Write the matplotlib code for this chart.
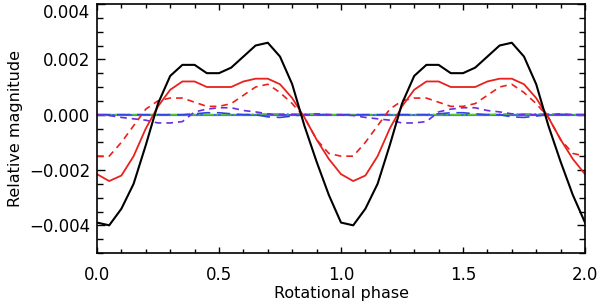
import numpy as np
import matplotlib
matplotlib.use("Agg")
import matplotlib.pyplot as plt

# one rotation, sampled every 0.05 in phase; plotted twice (phase and phase + 1)
phase = [0.00, 0.05, 0.10, 0.15, 0.20, 0.25, 0.30, 0.35, 0.40, 0.45,
         0.50, 0.55, 0.60, 0.65, 0.70, 0.75, 0.80, 0.85, 0.90, 0.95]

total = [-0.0039, -0.0040, -0.0034, -0.0025, -0.0011, 0.0004, 0.0014, 0.0018, 0.0018, 0.0015,
         0.0015, 0.0017, 0.0021, 0.0025, 0.0026, 0.0021, 0.0011, -0.0004, -0.0017, -0.0029]

red_solid = [-0.00215, -0.0024, -0.0022, -0.0015, -0.0005, 0.0003, 0.0009, 0.0012, 0.0012, 0.0010,
             0.0010, 0.0010, 0.0012, 0.0013, 0.0013, 0.0011, 0.0006, -0.0001, -0.0009, -0.0016]

red_dashed = [-0.0015, -0.0015, -0.0010, -0.0004, 0.0002, 0.0005, 0.0006, 0.0006, 0.00045, 0.0003,
              0.0003, 0.0004, 0.0007, 0.0010, 0.0011, 0.0008, 0.0004, -0.0001, -0.0009, -0.0014]

purple_dashed = [0.0, -0.00003, -0.0001, -0.00015, -0.0002, -0.0003, -0.0003, -0.00025, 0.0001, 0.0002,
                 0.00025, 0.00025, 0.00015, 0.0001, 0.00003, 0.0, 0.0, 0.0, 0.00003, 0.0]

blue_longdash = [0.0, 0.0, 0.0, 0.0, 0.0, 0.0, 0.0, 0.0, 0.00003, 0.00007,
                 0.00007, 0.00003, 0.0, 0.0, -0.00008, -0.0001, -0.00005, 0.0, 0.0, 0.0]

green_dashdot = [0.0, 0.0, 0.0, 0.0, 0.0, 0.0, 0.0, 0.0, 0.0, 0.0,
                 0.0, 0.0, 0.0, 0.00002, 0.00003, 0.00003, 0.00003, 0.00003, 0.00002, 0.0]

blue_solid = [0.0] * 20


def two_cycles(vals):
    v = np.array(vals)
    return np.concatenate([v, v, v[:1]])


x = np.concatenate([np.array(phase), np.array(phase) + 1, [2.0]])

fig = plt.figure(figsize=(6.0, 3.03), dpi=100)
ax = fig.add_axes([97 / 600, 1 - 253 / 303, 488 / 600, 249 / 303])

ax.plot(x, two_cycles(blue_solid), color="#3a6fe0", lw=1.6)
ax.plot(x, two_cycles(green_dashdot), color="#55c83a", lw=1.2, ls="-.")
ax.plot(x, two_cycles(blue_longdash), color="#3344dd", lw=1.2, ls=(0, (8, 4)))
ax.plot(x, two_cycles(purple_dashed), color="#6a2ee0", lw=1.2, ls=(0, (4, 3)))
ax.plot(x, two_cycles(red_dashed), color="#e8211d", lw=1.2, ls=(0, (4, 3)))
ax.plot(x, two_cycles(red_solid), color="#e8211d", lw=1.3)
ax.plot(x, two_cycles(total), color="black", lw=1.5)

ax.set_xlim(0, 2.0)
ax.set_ylim(-0.005, 0.004)
ax.set_xticks([0.0, 0.5, 1.0, 1.5, 2.0])
ax.set_xticks(np.arange(0, 2.01, 0.1), minor=True)
ax.set_yticks([-0.004, -0.002, 0.0, 0.002, 0.004])
ax.set_yticks(np.arange(-0.005, 0.00401, 0.0005), minor=True)
ax.set_xticklabels(["0.0", "0.5", "1.0", "1.5", "2.0"])
ax.set_yticklabels(["\u22120.004", "\u22120.002", "0.000", "0.002", "0.004"])

ax.tick_params(axis="both", which="both", direction="in", top=True, right=True,
               labelsize=12, width=1)
ax.tick_params(axis="y", which="major", length=6, pad=5)
ax.tick_params(axis="y", which="minor", length=4)
ax.tick_params(axis="x", which="major", length=4.5, pad=9)
ax.tick_params(axis="x", which="minor", length=3)
ax.get_yticklabels()[-1].set_verticalalignment("top")

for s in ax.spines.values():
    s.set_linewidth(1.2)

ax.set_xlabel("Rotational phase", fontsize=11.5, labelpad=2)
ax.set_ylabel("Relative magnitude", fontsize=11.5, labelpad=4)

fig.savefig("out.png", dpi=100)
